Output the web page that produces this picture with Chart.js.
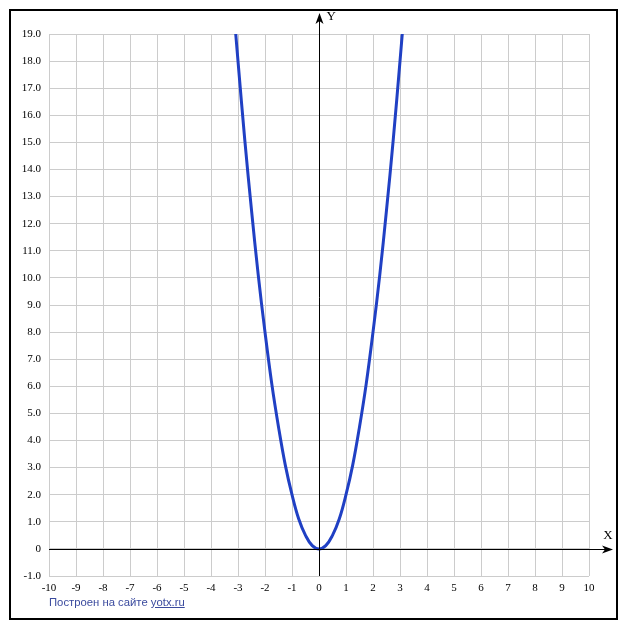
<!DOCTYPE html>
<html>
<head>
<meta charset="utf-8">
<script src="https://cdn.jsdelivr.net/npm/chart.js@4"></script>
<style>
    html, body { margin: 0; padding: 0; background: #fff; }
    #wrap { position: relative; width: 627px; height: 630px; }
    #credit {
        position: absolute; left: 49px; top: 596px;
        font: 11.3px "Liberation Sans", Arial, sans-serif;
        color: #3a4a9e;
    }
    #credit a { color: #3a4a9e; text-decoration: underline; }
</style>
</head>
<body>
<div id="wrap">
    <canvas id="chart" width="627" height="630"></canvas>
    <div id="credit">Построен на сайте <a>yotx.ru</a></div>
</div>
<script>
// Точки кривой
const xValues = [-3.1, -3, -2.75, -2.5, -2.25, -2, -1.75, -1.5, -1.25, -1, -0.75, -0.5, -0.25, 0,
                 0.25, 0.5, 0.75, 1, 1.25, 1.5, 1.75, 2, 2.25, 2.5, 2.75, 3, 3.1];
const yValues = [19.2, 18, 15.1, 12.5, 10.1, 8, 6.1, 4.5, 3.1, 2, 1.1, 0.5, 0.12, 0,
                 0.12, 0.5, 1.1, 2, 3.1, 4.5, 6.1, 8, 10.1, 12.5, 15.1, 18, 19.2];

// Диапазоны осей
const xMin = -10, xMax = 10;
const yMin = -1, yMax = 19;

const points = xValues.map((x, i) => ({ x: x, y: yValues[i] }));

// Оси со стрелками и рамка
const axesPlugin = {
    id: 'axes',
    afterDatasetsDraw(chart) {
        const ctx = chart.ctx;
        const x0 = Math.round(chart.scales.x.getPixelForValue(0)) + 0.5;
        const y0 = Math.round(chart.scales.y.getPixelForValue(0)) + 0.5;
        const area = chart.chartArea;
        const xEnd = chart.width - 14;
        const yEnd = 13;
        ctx.save();
        ctx.strokeStyle = '#000';
        ctx.fillStyle = '#000';
        ctx.lineWidth = 1;
        ctx.beginPath();
        ctx.moveTo(area.left, y0);
        ctx.lineTo(xEnd - 6, y0);
        ctx.moveTo(x0, area.bottom);
        ctx.lineTo(x0, yEnd + 6);
        ctx.stroke();

        ctx.beginPath();
        ctx.moveTo(xEnd, y0);
        ctx.lineTo(xEnd - 11, y0 - 4);
        ctx.lineTo(xEnd - 8, y0);
        ctx.lineTo(xEnd - 11, y0 + 4);
        ctx.closePath();
        ctx.fill();

        ctx.beginPath();
        ctx.moveTo(x0, yEnd);
        ctx.lineTo(x0 - 4, yEnd + 11);
        ctx.lineTo(x0, yEnd + 8);
        ctx.lineTo(x0 + 4, yEnd + 11);
        ctx.closePath();
        ctx.fill();

        ctx.font = '13px "Liberation Serif", "DejaVu Serif", serif';
        ctx.textBaseline = 'middle';
        ctx.textAlign = 'left';
        ctx.fillText('Y', x0 + 7, 17);
        ctx.textAlign = 'center';
        ctx.fillText('X', xEnd - 5, y0 - 14);

        ctx.lineWidth = 2;
        ctx.strokeRect(10, 10, chart.width - 20, chart.height - 21);
        ctx.restore();
    }
};

const ctx = document.getElementById('chart').getContext('2d');
const tickFont = { family: '"Liberation Serif", "DejaVu Serif", serif', size: 11 };

new Chart(ctx, {
    type: 'scatter',
    data: {
        datasets: [{
            data: points,
            showLine: true,
            borderColor: '#2040c4',
            borderWidth: 3,
            pointRadius: 0,
            tension: 0.4,
            fill: false
        }]
    },
    options: {
        responsive: false,
        animation: false,
        events: [],
        layout: {
            padding: { left: 0, top: 34, right: 38, bottom: 0 }
        },
        plugins: {
            legend: { display: false },
            tooltip: { enabled: false }
        },
        scales: {
            x: {
                type: 'linear',
                min: xMin,
                max: xMax,
                afterFit: scale => { scale.height = 54; },
                afterBuildTicks: scale => {
                    scale.ticks = [];
                    for (let v = xMin; v <= xMax; v++) scale.ticks.push({ value: v });
                },
                border: { display: false },
                grid: { color: '#cccccc', lineWidth: 1, drawTicks: false },
                ticks: {
                    padding: 6,
                    maxRotation: 0,
                    autoSkip: false,
                    color: '#000',
                    font: tickFont,
                    callback: v => String(v)
                }
            },
            y: {
                type: 'linear',
                min: yMin,
                max: yMax,
                afterFit: scale => { scale.width = 49; },
                afterBuildTicks: scale => {
                    scale.ticks = [];
                    for (let v = yMin; v <= yMax; v++) scale.ticks.push({ value: v });
                },
                border: { display: false },
                grid: { color: '#cccccc', lineWidth: 1, drawTicks: false },
                ticks: {
                    padding: 8,
                    autoSkip: false,
                    color: '#000',
                    font: tickFont,
                    callback: v => v === 0 ? '0' : v.toFixed(1)
                }
            }
        }
    },
    plugins: [axesPlugin]
});
</script>
</body>
</html>
